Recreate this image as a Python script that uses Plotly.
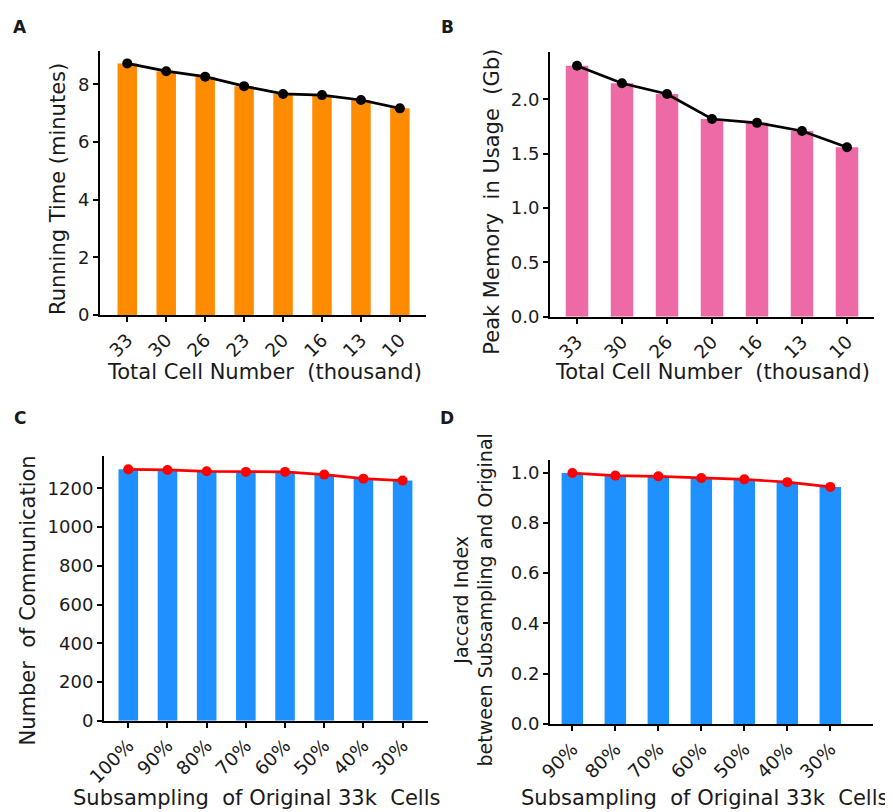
import plotly.graph_objects as go

W, H = 893, 812
OFF = 8  # page body margin of the html page

# ---- data ----
cells_a = ["33", "30", "26", "23", "20", "16", "13", "10"]
run_time = [8.73, 8.46, 8.27, 7.94, 7.67, 7.63, 7.46, 7.17]

cells_b = ["33", "30", "26", "20", "16", "13", "10"]
peak_mem = [2.31, 2.15, 2.05, 1.82, 1.785, 1.71, 1.56]

sub_c = ["100%", "90%", "80%", "70%", "60%", "50%", "40%", "30%"]
n_comm = [1298, 1295, 1288, 1285, 1285, 1271, 1250, 1240]

sub_d = ["90%", "80%", "70%", "60%", "50%", "40%", "30%"]
jaccard = [0.998, 0.988, 0.985, 0.978, 0.973, 0.962, 0.943]

ORANGE = "#FF8C00"
PINK = "#EE6AA7"
BLUE = "#1E90FF"
FONT = "DejaVu Sans, Verdana, sans-serif"
TXT = "#1a1a1a"

def px_x(p):
    return (p - OFF) / W

def px_y(p):
    return 1 - (p - OFF) / H

fig = go.Figure()

panels = [
    (cells_a, run_time, ORANGE, "black", "", (100, 426), (51, 315), [-0.7, 7.67], [0, 9.16], 2, ""),
    (cells_b, peak_mem, PINK, "black", "2", (550, 874), (51.7, 316.7), [-0.6, 6.6], [0, 2.44], 0.5, ".1f"),
    (sub_c, n_comm, BLUE, "#FF0000", "3", (104, 427.7), (456, 720.7), [-0.62, 7.64], [0, 1367], 200, ""),
    (sub_d, jaccard, BLUE, "#FF0000", "4", (550, 873.3), (460, 724), [-0.52, 7.0], [0, 1.05], 0.2, ".1f"),
]

for cats, vals, bcol, lcol, sfx, xd, yd, xr, yr, dt, fmt in panels:
    xa = "x" + sfx
    ya = "y" + sfx
    fig.add_trace(go.Bar(x=cats, y=vals, marker=dict(color=bcol, line=dict(width=0)),
                         width=0.5, xaxis=xa, yaxis=ya, showlegend=False))
    fig.add_trace(go.Scatter(x=cats, y=vals, mode="lines+markers",
                             line=dict(color=lcol, width=2.7),
                             marker=dict(color=lcol, size=10),
                             xaxis=xa, yaxis=ya, showlegend=False))
    axis_common = dict(showline=True, linecolor="black", linewidth=2,
                       ticks="outside", ticklen=5, tickwidth=2, tickcolor="black",
                       showgrid=False, zeroline=False, automargin=False)
    fig.layout["xaxis" + sfx] = dict(axis_common, domain=[px_x(xd[0]), px_x(xd[1])],
                                     anchor=ya, range=xr, type="category",
                                     tickangle=-45, fixedrange=True,
                                     tickfont=dict(family=FONT, size=18.5, color=TXT))
    fig.layout["yaxis" + sfx] = dict(axis_common, domain=[px_y(yd[1]), px_y(yd[0])],
                                     anchor=xa, range=yr, dtick=dt, tick0=0,
                                     tickformat=fmt, fixedrange=True,
                                     tickfont=dict(family=FONT, size=18, color=TXT))

ann = []
def add_text(text, x, y, size=21, angle=0, bold=False, yanchor="middle"):
    ann.append(dict(text=("<b>%s</b>" % text) if bold else text,
                    x=px_x(x), y=px_y(y), xref="paper", yref="paper",
                    showarrow=False, textangle=angle, xanchor="center", yanchor=yanchor,
                    font=dict(family=FONT, size=size, color=TXT)))

add_text("Running Time (minutes)", 58, 189, angle=-90)
add_text("Total Cell Number  (thousand)", 264, 372)
add_text("Peak Memory  in Usage  (Gb)", 491.7, 202, angle=-90)
add_text("Total Cell Number  (thousand)", 712.5, 372)
add_text("Number  of Communication", 27.5, 601, angle=-90)
add_text("Subsampling  of Original 33k  Cells", 256, 812, yanchor="bottom")
add_text("Jaccard Index<br>between Subsampling and Original", 472.5, 600, size=19, angle=-90)
add_text("Subsampling  of Original 33k  Cells", 704, 812, yanchor="bottom")
add_text("A", 19.5, 26.5, size=17, bold=True)
add_text("B", 447, 27, size=17, bold=True)
add_text("C", 19.5, 418, size=17, bold=True)
add_text("D", 447, 418, size=17, bold=True)

fig.update_layout(width=W, height=H, margin=dict(l=0, r=0, t=0, b=0, autoexpand=False),
                  paper_bgcolor="white", plot_bgcolor="white",
                  annotations=ann, bargap=0.5)

fig.write_html("out.html")
